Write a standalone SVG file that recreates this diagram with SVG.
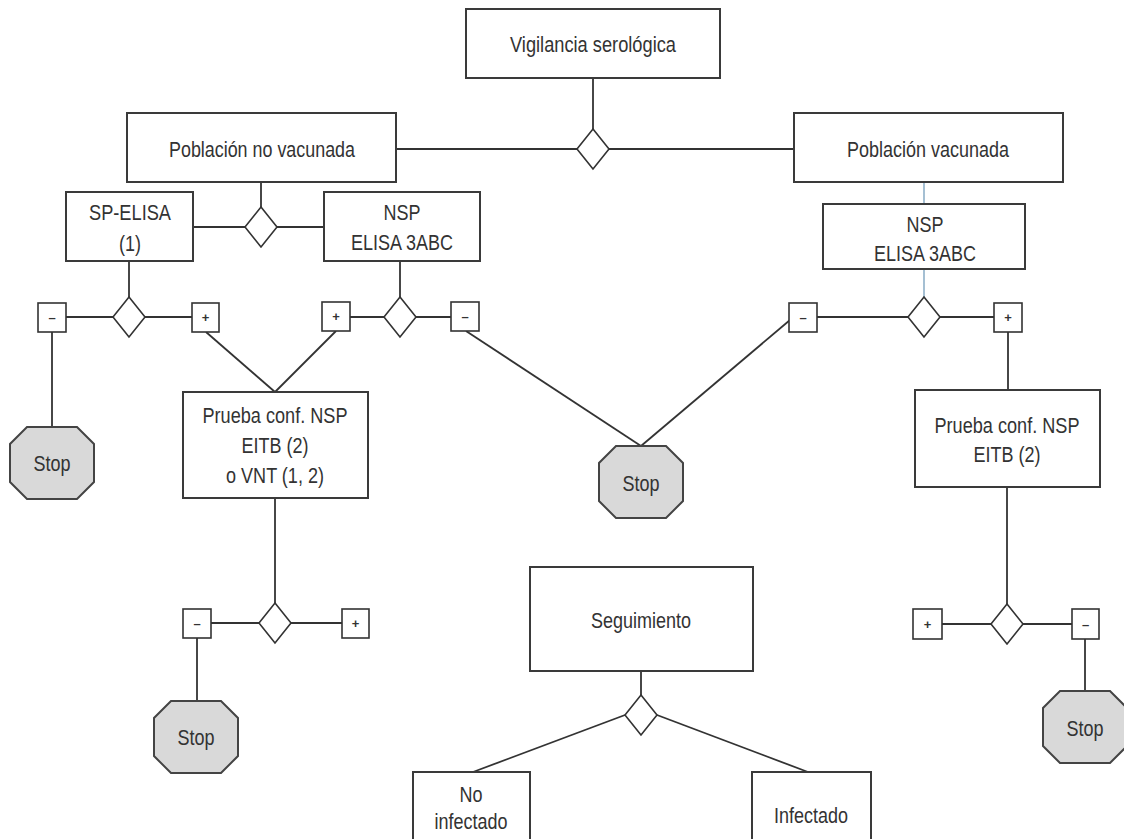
<svg xmlns="http://www.w3.org/2000/svg" width="1124" height="839" viewBox="0 0 1124 839">
<style>
.box{fill:#fff;stroke:#3a3a3a;stroke-width:2}
.dia{fill:#fff;stroke:#333;stroke-width:1.6}
.sm{fill:#fff;stroke:#333;stroke-width:1.6}
.stop{fill:#d9d9d9;stroke:#444;stroke-width:2}
.ln{stroke:#333;stroke-width:1.8;fill:none}
.bl{stroke:#8fb0c8;stroke-width:1.6;fill:none}
text{font-family:"Liberation Sans",Arial,sans-serif;font-size:22px;fill:#333;text-anchor:middle}
.sg{font-family:"Liberation Sans",Arial,sans-serif;font-size:13px;font-weight:bold}
</style>
<defs>
<polygon id="oct" points="-25,-36 25,-36 42,-19 42,19 25,36 -25,36 -42,19 -42,-19"/>
<polygon id="dm" points="0,-20 16,0 0,20 -16,0"/>
</defs>
<rect width="1124" height="839" fill="#fff"/>
<g id="connectors">
<line class="ln" x1="593" y1="78" x2="593" y2="129"/>
<line class="ln" x1="396" y1="149" x2="577" y2="149"/>
<line class="ln" x1="609" y1="149" x2="794" y2="149"/>
<line class="ln" x1="261" y1="182" x2="261" y2="207"/>
<line class="ln" x1="193" y1="227" x2="245" y2="227"/>
<line class="ln" x1="277" y1="227" x2="324" y2="227"/>
<line class="bl" x1="924" y1="182" x2="924" y2="204"/>
<line class="bl" x1="924" y1="269" x2="924" y2="297"/>
<line class="ln" x1="129" y1="261" x2="129" y2="297"/>
<line class="ln" x1="66" y1="317" x2="113" y2="317"/>
<line class="ln" x1="145" y1="317" x2="192" y2="317"/>
<line class="ln" x1="400" y1="261" x2="400" y2="297"/>
<line class="ln" x1="350" y1="317" x2="384" y2="317"/>
<line class="ln" x1="416" y1="317" x2="451" y2="317"/>
<line class="ln" x1="52" y1="332" x2="52" y2="427"/>
<line class="ln" x1="206" y1="332" x2="275" y2="392"/>
<line class="ln" x1="336" y1="331" x2="275" y2="392"/>
<line class="ln" x1="466" y1="331" x2="641" y2="446"/>
<line class="ln" x1="790" y1="320" x2="641" y2="446"/>
<line class="ln" x1="817" y1="317" x2="908" y2="317"/>
<line class="ln" x1="940" y1="317" x2="994" y2="317"/>
<line class="ln" x1="1008" y1="332" x2="1008" y2="390"/>
<line class="ln" x1="275" y1="498" x2="275" y2="603"/>
<line class="ln" x1="211" y1="623" x2="259" y2="623"/>
<line class="ln" x1="291" y1="623" x2="342" y2="623"/>
<line class="ln" x1="197" y1="638" x2="197" y2="701"/>
<line class="ln" x1="1007" y1="487" x2="1007" y2="604"/>
<line class="ln" x1="942" y1="624" x2="991" y2="624"/>
<line class="ln" x1="1023" y1="624" x2="1072" y2="624"/>
<line class="ln" x1="1085" y1="639" x2="1085" y2="691"/>
<line class="ln" x1="641" y1="671" x2="641" y2="695"/>
<line class="ln" x1="625" y1="715" x2="473" y2="772"/>
<line class="ln" x1="657" y1="715" x2="808" y2="772"/>
</g>
<g id="n-vigilancia"><rect class="box" x="466" y="9" width="254" height="69"/><text x="593" y="52" textLength="166" lengthAdjust="spacingAndGlyphs">Vigilancia serológica</text></g>
<g id="d-top"><use href="#dm" class="dia" x="593" y="149"/></g>
<g id="n-pobno"><rect class="box" x="127" y="113" width="269" height="69"/><text x="262" y="157" textLength="186" lengthAdjust="spacingAndGlyphs">Población no vacunada</text></g>
<g id="n-pobvac"><rect class="box" x="794" y="113" width="269" height="69"/><text x="928" y="157" textLength="162" lengthAdjust="spacingAndGlyphs">Población vacunada</text></g>
<g id="d-pobno"><use href="#dm" class="dia" x="261" y="227"/></g>
<g id="n-spelisa"><rect class="box" x="66" y="192" width="127" height="69"/><text x="130" y="220" textLength="82" lengthAdjust="spacingAndGlyphs">SP-ELISA</text><text x="130" y="251" textLength="22" lengthAdjust="spacingAndGlyphs">(1)</text></g>
<g id="n-nsp1"><rect class="box" x="324" y="192" width="156" height="69"/><text x="402" y="220" textLength="37" lengthAdjust="spacingAndGlyphs">NSP</text><text x="402" y="250" textLength="102" lengthAdjust="spacingAndGlyphs">ELISA 3ABC</text></g>
<g id="n-nsp2"><rect class="box" x="823" y="204" width="202" height="65"/><text x="925" y="232" textLength="37" lengthAdjust="spacingAndGlyphs">NSP</text><text x="925" y="261" textLength="102" lengthAdjust="spacingAndGlyphs">ELISA 3ABC</text></g>
<g id="d-sp"><use href="#dm" class="dia" x="129" y="317"/></g>
<g id="d-nsp1"><use href="#dm" class="dia" x="400" y="317"/></g>
<g id="d-nsp2"><use href="#dm" class="dia" x="924" y="317"/></g>
<g id="s1"><rect class="sm" x="38" y="303" width="28" height="29"/><text class="sg" x="52" y="322">–</text></g>
<g id="s2"><rect class="sm" x="192" y="303" width="27" height="29"/><text class="sg" x="205.5" y="322">+</text></g>
<g id="s3"><rect class="sm" x="322" y="302" width="28" height="29"/><text class="sg" x="336" y="321">+</text></g>
<g id="s4"><rect class="sm" x="451" y="302" width="28" height="29"/><text class="sg" x="465" y="321">–</text></g>
<g id="s5"><rect class="sm" x="789" y="303" width="28" height="29"/><text class="sg" x="803" y="322">–</text></g>
<g id="s6"><rect class="sm" x="994" y="303" width="28" height="29"/><text class="sg" x="1008" y="322">+</text></g>
<g id="stop1"><use href="#oct" class="stop" x="52" y="463"/><text x="52" y="471" textLength="37" lengthAdjust="spacingAndGlyphs">Stop</text></g>
<g id="n-prueba1"><rect class="box" x="183" y="392" width="185" height="106"/><text x="275" y="423" textLength="145" lengthAdjust="spacingAndGlyphs">Prueba conf. NSP</text><text x="275" y="453" textLength="67" lengthAdjust="spacingAndGlyphs">EITB (2)</text><text x="275" y="483" textLength="98" lengthAdjust="spacingAndGlyphs">o VNT (1, 2)</text></g>
<g id="stop2"><use href="#oct" class="stop" x="641" y="482"/><text x="641" y="491" textLength="37" lengthAdjust="spacingAndGlyphs">Stop</text></g>
<g id="n-prueba2"><rect class="box" x="915" y="390" width="185" height="97"/><text x="1007" y="433" textLength="145" lengthAdjust="spacingAndGlyphs">Prueba conf. NSP</text><text x="1007" y="462" textLength="67" lengthAdjust="spacingAndGlyphs">EITB (2)</text></g>
<g id="d-p1"><use href="#dm" class="dia" x="275" y="623"/></g>
<g id="s7"><rect class="sm" x="183" y="609" width="28" height="29"/><text class="sg" x="197" y="628">–</text></g>
<g id="s8"><rect class="sm" x="342" y="609" width="27" height="29"/><text class="sg" x="355.5" y="628">+</text></g>
<g id="stop3"><use href="#oct" class="stop" x="196" y="737"/><text x="196" y="745" textLength="37" lengthAdjust="spacingAndGlyphs">Stop</text></g>
<g id="d-p2"><use href="#dm" class="dia" x="1007" y="624"/></g>
<g id="s9"><rect class="sm" x="913" y="609" width="29" height="30"/><text class="sg" x="927.5" y="629">+</text></g>
<g id="s10"><rect class="sm" x="1072" y="609" width="27" height="30"/><text class="sg" x="1085.5" y="629">–</text></g>
<g id="stop4"><use href="#oct" class="stop" x="1085" y="727"/><text x="1085" y="736" textLength="37" lengthAdjust="spacingAndGlyphs">Stop</text></g>
<g id="n-seg"><rect class="box" x="530" y="567" width="223" height="104"/><text x="641" y="628" textLength="100" lengthAdjust="spacingAndGlyphs">Seguimiento</text></g>
<g id="d-seg"><use href="#dm" class="dia" x="641" y="715"/></g>
<g id="n-noinf"><rect class="box" x="413" y="772" width="117" height="80"/><text x="471" y="802" textLength="23" lengthAdjust="spacingAndGlyphs">No</text><text x="471" y="829" textLength="73" lengthAdjust="spacingAndGlyphs">infectado</text></g>
<g id="n-inf"><rect class="box" x="752" y="772" width="119" height="80"/><text x="811" y="823" textLength="74" lengthAdjust="spacingAndGlyphs">Infectado</text></g>
</svg>
